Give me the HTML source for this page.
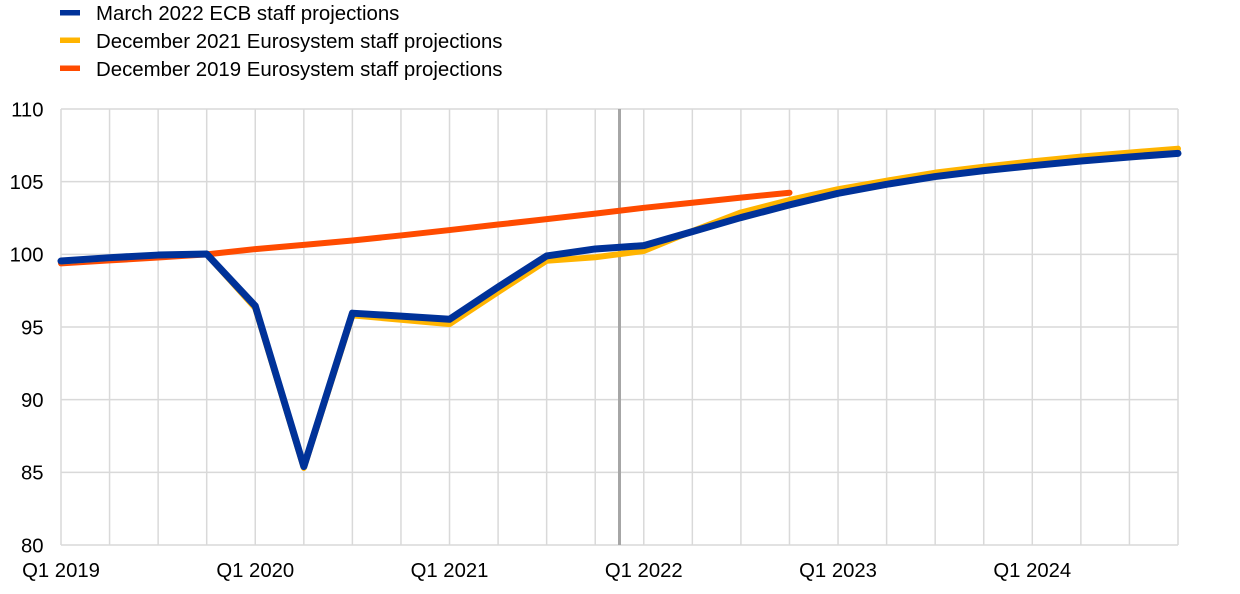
<!DOCTYPE html>
<html>
<head>
<meta charset="utf-8">
<style>
  html, body { margin: 0; padding: 0; background: #ffffff; }
  svg { display: block; font-family: "Liberation Sans", Arial, sans-serif; }
</style>
</head>
<body>
<svg width="1240" height="594" viewBox="0 0 1240 594" xmlns="http://www.w3.org/2000/svg">
  <rect x="0" y="0" width="1240" height="594" fill="#ffffff"/>

  <!-- Legend -->
  <rect x="60" y="10" width="20" height="5.5" fill="#003299"/>
  <text x="96" y="20" font-size="20.4" fill="#000">March 2022 ECB staff projections</text>
  <rect x="60" y="37.5" width="20" height="5.5" fill="#FFB400"/>
  <text x="96" y="48" font-size="20.4" fill="#000">December 2021 Eurosystem staff projections</text>
  <rect x="60" y="65.5" width="20" height="5.5" fill="#FF4B00"/>
  <text x="96" y="76" font-size="20.4" fill="#000">December 2019 Eurosystem staff projections</text>

  <!-- Grid: horizontal -->
  <g stroke="#d9d9d9" stroke-width="1.5">
    <line x1="61" y1="109" x2="1178" y2="109"/>
    <line x1="61" y1="181.67" x2="1178" y2="181.67"/>
    <line x1="61" y1="254.33" x2="1178" y2="254.33"/>
    <line x1="61" y1="327" x2="1178" y2="327"/>
    <line x1="61" y1="399.67" x2="1178" y2="399.67"/>
    <line x1="61" y1="472.33" x2="1178" y2="472.33"/>
    <line x1="61" y1="545" x2="1178" y2="545"/>
  </g>
  <!-- Grid: vertical -->
  <g stroke="#d9d9d9" stroke-width="1.5">
    <line x1="61" y1="109" x2="61" y2="545"/>
    <line x1="109.57" y1="109" x2="109.57" y2="545"/>
    <line x1="158.13" y1="109" x2="158.13" y2="545"/>
    <line x1="206.70" y1="109" x2="206.70" y2="545"/>
    <line x1="255.26" y1="109" x2="255.26" y2="545"/>
    <line x1="303.83" y1="109" x2="303.83" y2="545"/>
    <line x1="352.39" y1="109" x2="352.39" y2="545"/>
    <line x1="400.96" y1="109" x2="400.96" y2="545"/>
    <line x1="449.52" y1="109" x2="449.52" y2="545"/>
    <line x1="498.09" y1="109" x2="498.09" y2="545"/>
    <line x1="546.65" y1="109" x2="546.65" y2="545"/>
    <line x1="595.22" y1="109" x2="595.22" y2="545"/>
    <line x1="643.78" y1="109" x2="643.78" y2="545"/>
    <line x1="692.35" y1="109" x2="692.35" y2="545"/>
    <line x1="740.91" y1="109" x2="740.91" y2="545"/>
    <line x1="789.48" y1="109" x2="789.48" y2="545"/>
    <line x1="838.04" y1="109" x2="838.04" y2="545"/>
    <line x1="886.61" y1="109" x2="886.61" y2="545"/>
    <line x1="935.17" y1="109" x2="935.17" y2="545"/>
    <line x1="983.74" y1="109" x2="983.74" y2="545"/>
    <line x1="1032.30" y1="109" x2="1032.30" y2="545"/>
    <line x1="1080.87" y1="109" x2="1080.87" y2="545"/>
    <line x1="1129.43" y1="109" x2="1129.43" y2="545"/>
    <line x1="1178" y1="109" x2="1178" y2="545"/>
  </g>

  <!-- Y labels -->
  <g font-size="20.3" fill="#000" text-anchor="end">
    <text x="43.5" y="116.3">110</text>
    <text x="43.5" y="189">105</text>
    <text x="43.5" y="261.6">100</text>
    <text x="43.5" y="334.3">95</text>
    <text x="43.5" y="407">90</text>
    <text x="43.5" y="479.6">85</text>
    <text x="43.5" y="552.3">80</text>
  </g>

  <!-- X labels -->
  <g font-size="20.3" fill="#000" text-anchor="middle">
    <text x="61" y="577">Q1 2019</text>
    <text x="255.26" y="577">Q1 2020</text>
    <text x="449.52" y="577">Q1 2021</text>
    <text x="643.78" y="577">Q1 2022</text>
    <text x="838.04" y="577">Q1 2023</text>
    <text x="1032.30" y="577">Q1 2024</text>
  </g>

  <!-- Vertical marker line -->
  <line x1="619.5" y1="109" x2="619.5" y2="545" stroke="#a6a6a6" stroke-width="3"/>

  <!-- December 2019 (orange) -->
  <polyline fill="none" stroke="#FF4B00" stroke-width="6" stroke-linecap="round" stroke-linejoin="round"
    points="61,263.34 109.57,260.44 158.13,257.53 206.70,254.33 255.26,249.10 303.83,244.89 352.39,240.53 400.96,235.44 449.52,230.06 498.09,224.54 546.65,219.16 595.22,213.64 643.78,207.83 692.35,202.74 740.91,197.65 789.48,192.71"/>

  <!-- December 2021 (yellow) -->
  <polyline fill="none" stroke="#FFB400" stroke-width="6" stroke-linecap="round" stroke-linejoin="round"
    points="61,261.60 109.57,257.97 158.13,255.06 206.70,254.33 255.26,308.11 303.83,467.97 352.39,315.37 400.96,319.73 449.52,324.09 498.09,292.12 546.65,260.73 595.22,257.24 643.78,250.99 692.35,231.08 740.91,212.48 789.48,199.98 838.04,189.22 886.61,180.65 935.17,172.66 983.74,166.70 1032.30,161.32 1080.87,156.67 1129.43,152.60 1178,148.68"/>

  <!-- March 2022 (blue) -->
  <polyline fill="none" stroke="#003299" stroke-width="7" stroke-linecap="round" stroke-linejoin="round"
    points="61,261.02 109.57,257.68 158.13,255.06 206.70,254.04 255.26,305.93 303.83,466.52 352.39,313.19 400.96,316.10 449.52,319.30 498.09,287.03 546.65,255.93 595.22,248.96 643.78,245.61 692.35,231.66 740.91,217.56 789.48,204.92 838.04,193.29 886.61,184.28 935.17,176.58 983.74,170.62 1032.30,165.68 1080.87,161.03 1129.43,156.96 1178,153.33"/>
</svg>
</body>
</html>
